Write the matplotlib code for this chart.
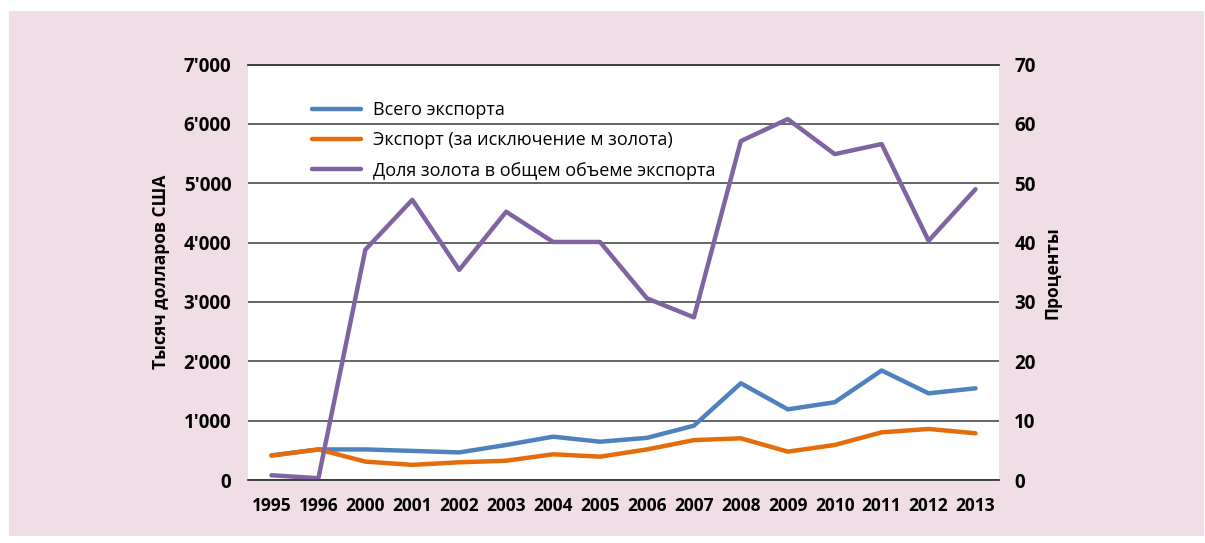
import matplotlib
matplotlib.use("Agg")
import matplotlib.pyplot as plt
from matplotlib.patches import Rectangle
from matplotlib.ticker import FuncFormatter, MultipleLocator

plt.rcParams["font.family"] = ["Open Sans", "DejaVu Sans"]

years = ["1995", "1996", "2000", "2001", "2002", "2003", "2004", "2005",
         "2006", "2007", "2008", "2009", "2010", "2011", "2012", "2013"]
# thousand USD
total_exports = [415, 515, 515, 490, 465, 590, 730, 645,
                 710, 915, 1630, 1190, 1310, 1845, 1460, 1545]
exports_ex_gold = [410, 515, 310, 255, 298, 325, 433, 393,
                   515, 672, 702, 478, 590, 803, 860, 787]
# percent
gold_share = [0.8, 0.3, 38.8, 47.2, 35.4, 45.2, 40.1, 40.1,
              30.6, 27.4, 57.1, 60.8, 54.9, 56.6, 40.3, 49.0]

labels = ["Всего экспорта",
          "Экспорт (за исключение м золота)",
          "Доля золота в общем объеме экспорта"]
colors = ["#4f81bd", "#e46c0a", "#8064a2"]
grid_col = "#3c3c3c"
pink = "#f0dde5"

fig = plt.figure(figsize=(12.05, 5.43), dpi=100)
fig.patch.set_facecolor("white")
fig.patches.append(Rectangle((9 / 1205, 7 / 543), 1195 / 1205, 525 / 543,
                             transform=fig.transFigure, facecolor=pink,
                             edgecolor="none", zorder=-10))

ax = fig.add_axes([248 / 1205, 63 / 543, 751 / 1205, 415.5 / 543])
ax2 = ax.twinx()
ax.set_facecolor("white")

x = range(len(years))
l1, = ax.plot(x, total_exports, color=colors[0], lw=3.2, solid_capstyle="round")
l2, = ax.plot(x, exports_ex_gold, color=colors[1], lw=3.2, solid_capstyle="round")
l3, = ax2.plot(x, gold_share, color=colors[2], lw=3.2, solid_capstyle="round")

ax.set_xlim(-0.5, len(years) - 0.5)
ax.set_ylim(0, 7000)
ax2.set_ylim(0, 70)
ax.yaxis.set_major_locator(MultipleLocator(1000))
ax2.yaxis.set_major_locator(MultipleLocator(10))
ax.yaxis.set_major_formatter(FuncFormatter(lambda v, p: f"{int(v):,}".replace(",", "'")))

ax.set_xticks(list(x))
ax.set_xticklabels(years)
ax.grid(axis="y", color=grid_col, lw=1.1)
ax.set_axisbelow(True)

for a in (ax, ax2):
    for side in ("left", "right"):
        a.spines[side].set_visible(False)
    for side in ("top", "bottom"):
        a.spines[side].set_color(grid_col)
        a.spines[side].set_linewidth(1.1)
    a.tick_params(length=0)
    a.tick_params(axis="x", labelsize=12.5)
    a.tick_params(axis="y", labelsize=13.5)
    for t in a.get_xticklabels() + a.get_yticklabels():
        t.set_fontweight("bold")

ax.tick_params(axis="y", pad=12)
ax.tick_params(axis="x", pad=12)
ax2.tick_params(axis="y", pad=11)

ax.set_ylabel("Тысяч долларов США", fontsize=12.5, fontweight="bold", labelpad=10)
ax2.set_ylabel("Проценты", fontsize=12.5, fontweight="bold", labelpad=6)

ax2.legend([l1, l2, l3], labels, loc="upper left", bbox_to_anchor=(0.0857, 0.912),
           frameon=False, fontsize=13, handlelength=2.7, handletextpad=0.65,
           labelspacing=0.68, borderpad=0, borderaxespad=0)

fig.savefig("out.png", dpi=100, facecolor=fig.get_facecolor())
